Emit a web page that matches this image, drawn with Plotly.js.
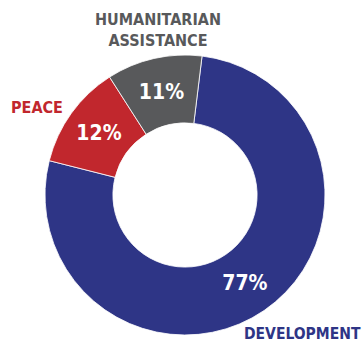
<!DOCTYPE html>
<html>
<head>
<meta charset="utf-8">
<script src="https://cdn.plot.ly/plotly-3.0.1.min.js"></script>
<style>html,body{margin:0;padding:0;background:#fff;}#chart{width:364px;height:344px;}</style>
</head>
<body>
<div id="chart"></div>
<script>
const categories = ["DEVELOPMENT", "PEACE", "HUMANITARIAN<br>ASSISTANCE"];
const values = [77, 12, 11];
const percentLabels = ["77%", "12%", "11%"];
const colors = ["#2e3586", "#c1272d", "#58595b"];

const FONT = "'DejaVu Sans Condensed', 'Roboto', sans-serif";

const trace = {
  type: "pie",
  values: values,
  labels: categories,
  text: percentLabels,
  textinfo: "text",
  textposition: "inside",
  insidetextorientation: "horizontal",
  hole: 0.515,
  sort: false,
  direction: "clockwise",
  rotation: 7,
  marker: {colors: colors, line: {color: "#ffffff", width: 0.8}},
  insidetextfont: {family: FONT, size: 21, color: "#ffffff", weight: "bold"},
  domain: {x: [45/364, 325/364], y: [1 - 335/344, 1 - 55/344]},
  showlegend: false,
  hoverinfo: "label+percent"
};

const annotations = [
  {text: categories[2], x: 158/364, y: 1 - 30/344, font: {color: colors[2]}},
  {text: categories[1], x: 37/364, y: 1 - 107/344, font: {color: colors[1]}},
  {text: categories[0], x: 362/364, y: 0, xanchor: "right", yanchor: "bottom", borderpad: 0, font: {color: colors[0], size: 15.5}}
].map(a => Object.assign({
  xref: "paper", yref: "paper", showarrow: false, xanchor: "center", yanchor: "middle"
}, a, {font: Object.assign({family: FONT, size: 16, weight: "bold"}, a.font)}));

const layout = {
  width: 364, height: 344,
  margin: {l: 0, r: 0, t: 0, b: 0},
  paper_bgcolor: "#ffffff",
  annotations: annotations
};

Plotly.newPlot("chart", [trace], layout, {displayModeBar: false, staticPlot: true});
</script>
</body>
</html>
